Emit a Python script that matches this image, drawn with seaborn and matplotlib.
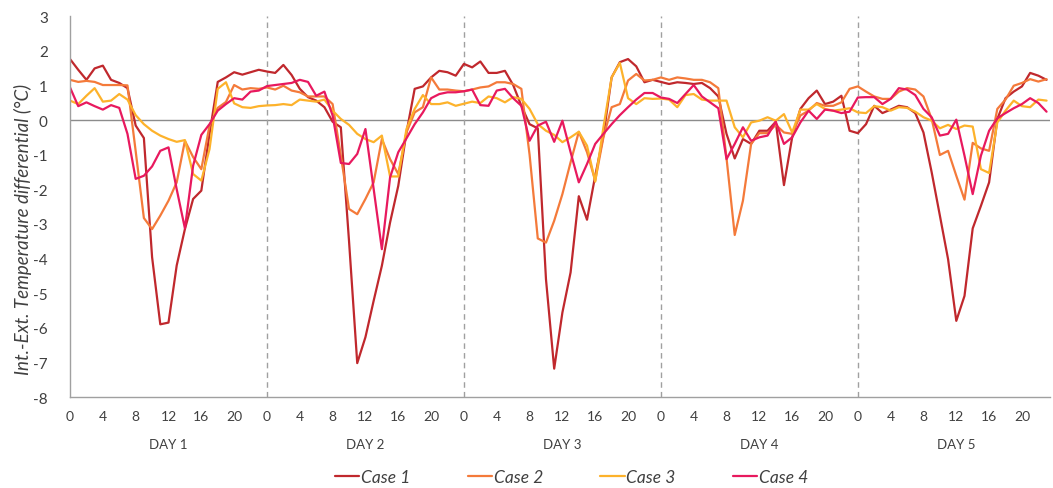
import numpy as np
import pandas as pd
import matplotlib
matplotlib.use("Agg")
import matplotlib.pyplot as plt
import matplotlib.transforms as mtransforms
import seaborn as sns

hours = list(range(120))
day_labels = ["DAY 1", "DAY 2", "DAY 3", "DAY 4", "DAY 5"]
case_names = ["Case 1", "Case 2", "Case 3", "Case 4"]

case1 = [1.76, 1.45, 1.16, 1.49, 1.57, 1.16, 1.07, 0.92, -0.16, -0.52, -3.96, -5.9, -5.85, -4.2, -3.15, -2.28, -2.04, -0.4, 1.1, 1.23, 1.38, 1.31, 1.38, 1.45,
         1.4, 1.36, 1.59, 1.3, 0.9, 0.66, 0.56, 0.37, -0.05, -0.21, -3.5, -7.02, -6.27, -5.22, -4.21, -2.96, -1.9, -0.36, 0.9, 0.97, 1.23, 1.42, 1.38, 1.28,
         1.62, 1.52, 1.69, 1.36, 1.36, 1.42, 1.01, 0.41, -0.12, -0.24, -4.6, -7.18, -5.56, -4.4, -2.2, -2.88, -1.61, -0.45, 1.23, 1.67, 1.76, 1.55, 1.09, 1.16,
         1.1, 1.04, 1.09, 1.07, 1.04, 1.07, 0.92, 0.68, -0.4, -1.11, -0.55, -0.69, -0.31, -0.31, -0.05, -1.88, -0.5, 0.32, 0.63, 0.85, 0.46, 0.53, 0.7, -0.31,
         -0.38, -0.12, 0.41, 0.2, 0.3, 0.41, 0.37, 0.2, -0.36, -1.51, -2.76, -4.02, -5.8, -5.08, -3.13, -2.48, -1.8, 0.03, 0.63, 0.82, 0.97, 1.36, 1.28, 1.16]
case2 = [1.16, 1.1, 1.13, 1.1, 1.01, 1.01, 1.01, 1.0, -0.9, -2.83, -3.15, -2.76, -2.33, -1.8, -0.6, -1.07, -1.42, -0.16, 0.35, 0.52, 1.01, 0.88, 0.92, 0.9,
         0.94, 0.88, 0.99, 0.85, 0.8, 0.68, 0.68, 0.68, 0.46, -1.03, -2.57, -2.72, -2.28, -1.8, -0.55, -1.13, -1.56, -0.36, 0.22, 0.37, 1.23, 0.88, 0.88, 0.85,
         0.83, 0.88, 0.94, 0.97, 1.09, 1.09, 1.04, 0.9, -1.0, -3.42, -3.54, -2.91, -2.14, -1.22, -0.34, -0.93, -1.75, -0.5, 0.37, 0.46, 1.14, 1.33, 1.14, 1.16,
         1.23, 1.16, 1.23, 1.2, 1.16, 1.16, 1.09, 0.92, -1.1, -3.32, -2.33, -0.69, -0.38, -0.38, -0.14, -0.36, -0.4, 0.13, 0.27, 0.49, 0.41, 0.41, 0.51, 0.9,
         0.97, 0.82, 0.68, 0.61, 0.61, 0.82, 0.92, 0.88, 0.68, 0.03, -1.01, -0.89, -1.61, -2.3, -0.66, -0.82, -0.89, 0.32, 0.59, 0.99, 1.07, 1.18, 1.11, 1.18]
case3 = [0.56, 0.46, 0.7, 0.92, 0.53, 0.56, 0.75, 0.59, 0.14, -0.12, -0.31, -0.45, -0.55, -0.63, -0.58, -1.56, -1.75, -0.84, 0.9, 1.09, 0.48, 0.37, 0.35, 0.4,
         0.42, 0.43, 0.46, 0.43, 0.59, 0.56, 0.53, 0.59, 0.27, 0.03, -0.14, -0.4, -0.55, -0.64, -0.45, -1.63, -1.63, -0.26, 0.32, 0.72, 0.46, 0.46, 0.51, 0.41,
         0.47, 0.53, 0.49, 0.68, 0.63, 0.51, 0.66, 0.61, 0.32, -0.12, -0.31, -0.43, -0.64, -0.5, -0.34, -0.74, -1.78, -0.21, 1.23, 1.65, 0.63, 0.46, 0.63, 0.61,
         0.62, 0.59, 0.37, 0.72, 0.75, 0.59, 0.56, 0.56, 0.56, -0.21, -0.5, -0.07, -0.02, 0.08, -0.02, 0.17, -0.36, 0.3, 0.3, 0.46, 0.32, 0.27, 0.3, 0.34,
         0.22, 0.2, 0.4, 0.37, 0.27, 0.37, 0.35, 0.24, 0.08, -0.02, -0.24, -0.14, -0.26, -0.16, -0.19, -1.42, -1.53, -0.07, 0.27, 0.56, 0.4, 0.37, 0.59, 0.56]
case4 = [0.94, 0.4, 0.51, 0.4, 0.3, 0.43, 0.35, -0.4, -1.7, -1.61, -1.34, -0.89, -0.79, -2.0, -3.13, -1.32, -0.43, -0.12, 0.27, 0.46, 0.63, 0.59, 0.82, 0.85,
         0.98, 1.01, 1.04, 1.07, 1.16, 1.1, 0.7, 0.82, 0.13, -1.24, -1.27, -0.98, -0.26, -1.99, -3.73, -1.66, -0.93, -0.53, -0.12, 0.22, 0.63, 0.75, 0.8, 0.8,
         0.83, 0.88, 0.43, 0.41, 0.85, 0.9, 0.63, 0.41, -0.6, -0.16, -0.05, -0.63, -0.02, -0.93, -1.8, -1.27, -0.69, -0.4, -0.12, 0.14, 0.37, 0.59, 0.78, 0.78,
         0.65, 0.61, 0.49, 0.75, 1.01, 0.68, 0.51, 0.34, -1.13, -0.69, -0.21, -0.6, -0.5, -0.45, -0.05, -0.69, -0.5, -0.07, 0.27, 0.03, 0.3, 0.27, 0.2, 0.24,
         0.65, 0.66, 0.66, 0.46, 0.61, 0.92, 0.88, 0.72, 0.32, 0.08, -0.45, -0.4, 0.01, -1.03, -2.14, -1.03, -0.31, 0.05, 0.2, 0.34, 0.46, 0.63, 0.49, 0.24]

colors = ["#C0282D", "#F47A3A", "#FDB22B", "#E8195E"]

rows = []
for name, vals in zip(case_names, [case1, case2, case3, case4]):
    for h, v in zip(hours, vals):
        rows.append({"hour": h, "value": v, "case": name})
df = pd.DataFrame(rows)

sns.set_theme(style="white")
plt.rcParams["font.family"] = ["Lato", "DejaVu Sans"]
text_color = "#404040"

W, H = 1053, 489
fig = plt.figure(figsize=(W / 100, H / 100), dpi=100)
ax = fig.add_axes([0.0665, 0.186, 0.9305, 0.779])

sns.lineplot(data=df, x="hour", y="value", hue="case", palette=colors,
             linewidth=1.6, ax=ax, legend=True)

ax.axhline(0, color="#8c8c8c", linewidth=1.0, zorder=0)
for b in [24, 48, 72, 96]:
    ax.axvline(b, color="#a0a0a0", linewidth=1.0, linestyle=(0, (4, 3)), zorder=0)

ax.set_xlim(0, 119.4)
ax.set_ylim(-8, 3)
ax.set_yticks(range(-8, 4))
ax.set_yticklabels([str(v) for v in range(-8, 4)], fontsize=11, color=text_color)
xt = list(range(0, 120, 4))
ax.set_xticks(xt)
ax.set_xticklabels([str(t % 24) for t in xt], fontsize=10, color=text_color)
ax.tick_params(axis="x", length=0, pad=9)
ax.tick_params(axis="y", direction="in", length=5, color="#a0a0a0", pad=16)

for s in ["top", "right"]:
    ax.spines[s].set_visible(False)
for s in ["left", "bottom"]:
    ax.spines[s].set_color("#a0a0a0")
    ax.spines[s].set_linewidth(1.0)

ax.set_xlabel("")
ax.set_ylabel("")
fig.text(23 / W, 1 - 229.5 / H, "Int.-Ext. Temperature differential (°C)",
         rotation=90, ha="center", va="center", fontsize=13.5, style="italic",
         color=text_color)

trans = mtransforms.blended_transform_factory(ax.transData, ax.transAxes)
for i, lab in enumerate(day_labels):
    ax.text(12 + 24 * i, -0.123, lab, transform=trans, ha="center", va="center",
            fontsize=9.5, color=text_color)

handles, labels = ax.get_legend_handles_labels()
ax.get_legend().remove()
leg = fig.legend(handles, labels, loc="center", bbox_to_anchor=(0.543, 0.022),
                 ncol=4, frameon=False, handlelength=1.4, handletextpad=0.1,
                 columnspacing=3.3, prop={"size": 12.5, "style": "italic"})
for t in leg.get_texts():
    t.set_color(text_color)

fig.savefig("out.png", dpi=100)
